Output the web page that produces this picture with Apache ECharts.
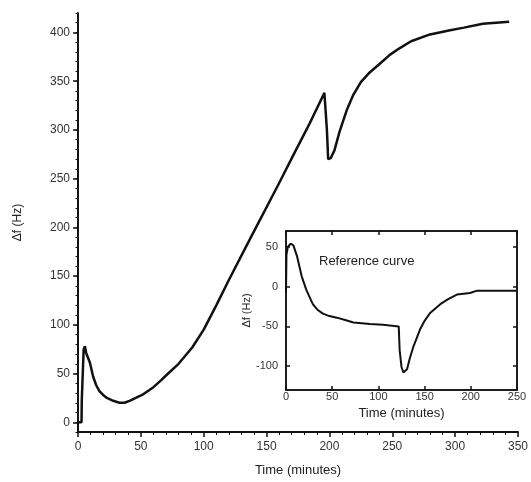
<!DOCTYPE html>
<html>
<head>
<meta charset="utf-8">
<script src="https://cdn.jsdelivr.net/npm/echarts@6/dist/echarts.min.js"></script>
<style>
  html, body { margin: 0; padding: 0; background: #fff; }
  #chart { width: 531px; height: 482px; }
</style>
</head>
<body>
<div id="chart"></div>
<script>
// main curve (time in minutes, delta f in Hz)
const mainTime = [0, 2.8, 3, 4, 4.5, 5.5, 6.5, 7.5, 9.5, 12, 14.5, 17, 20, 23, 28, 33, 37, 41, 46, 51, 60, 66, 70, 80, 91,
  100, 110, 120, 138, 159, 172, 184, 190, 196, 198, 199, 201, 204, 208, 214, 219, 225, 232, 241, 248, 256, 265,
  280, 295, 307, 322, 343];
const mainValues = [0, 0, 22, 24, 75, 78, 71, 70, 61, 47, 38, 32, 28, 25, 22, 20, 20, 22, 25, 28, 36, 43, 48, 60, 77,
  95, 120, 146, 191, 243, 276, 306, 322, 338, 300, 270, 271, 279, 298, 321, 336, 349, 359, 369, 377, 384, 391,
  398, 402, 405, 409, 411];

// inset reference curve
const refTime = [0, 0.5, 2, 5, 8, 12, 17, 22, 29, 34, 40, 47, 55, 64, 73, 91, 105, 122, 123, 125, 127, 129, 131, 134, 138,
  145, 150, 156, 167, 175, 185, 199, 207, 250];
const refValues = [-8, 40, 50, 54, 52, 38, 13, -4, -22, -29, -34, -37, -39, -42, -45, -47, -48, -50, -80, -101, -108, -108, -104, -90, -75,
  -54, -43, -33, -22, -16, -10, -8, -5, -5];

const mainYTicks = [0, 50, 100, 150, 200, 250, 300, 350, 400];
const refYTicks = [-100, -50, 0, 50];

const font = 'Liberation Sans';
const ink = '#111';

const chart = echarts.init(document.getElementById('chart'));

chart.setOption({
  backgroundColor: '#fff',
  animation: false,
  title: {
    text: 'Reference curve',
    left: 314, top: 250,
    textStyle: { fontFamily: font, fontSize: 13, fontWeight: 'normal', color: '#222' }
  },
  grid: [
    { left: 78, right: 11, top: 13, bottom: 49, show: false },
    { left: 286, right: 14, top: 231, bottom: 92, show: true, backgroundColor: '#fff',
      borderColor: ink, borderWidth: 1.5, z: 5 }
  ],
  xAxis: [
    {
      gridIndex: 0, type: 'value', min: 0, max: 350, interval: 50,
      name: 'Time (minutes)', nameLocation: 'middle', nameGap: 32,
      nameTextStyle: { fontFamily: font, fontSize: 13, color: '#222' },
      axisLine: { onZero: false, lineStyle: { color: ink, width: 2 } },
      axisTick: { length: 5, lineStyle: { color: ink, width: 1.5 } },
      minorTick: { show: true, splitNumber: 5, length: 3, lineStyle: { color: ink } },
      axisLabel: { fontFamily: font, fontSize: 12, color: '#333', margin: 9 },
      splitLine: { show: false }
    },
    {
      gridIndex: 1, type: 'value', min: 0, max: 250, interval: 50,
      name: 'Time (minutes)', nameLocation: 'middle', nameGap: 17,
      nameTextStyle: { fontFamily: font, fontSize: 13, color: '#222' },
      axisLine: { onZero: false, lineStyle: { color: ink, width: 1.5 } },
      axisTick: { inside: true, length: 4, lineStyle: { color: ink, width: 1.5 } },
      axisLabel: { fontFamily: font, fontSize: 11, color: '#333', margin: 1 },
      splitLine: { show: false }, z: 6
    },
    {
      gridIndex: 1, type: 'value', min: 0, max: 250, interval: 50, position: 'top',
      axisLine: { onZero: false, lineStyle: { color: ink, width: 1.5 } },
      axisTick: { inside: true, length: 4, lineStyle: { color: ink, width: 1.5 } },
      axisLabel: { show: false }, splitLine: { show: false }, z: 6
    }
  ],
  yAxis: [
    {
      gridIndex: 0, type: 'value', min: -10, max: 420,
      name: 'Δf (Hz)', nameLocation: 'middle', nameGap: 54,
      nameTextStyle: { fontFamily: font, fontSize: 12, color: '#222' },
      axisLine: { onZero: false, lineStyle: { color: ink, width: 2 } },
      axisTick: { length: 5, customValues: mainYTicks, lineStyle: { color: ink, width: 1.5 } },
      axisLabel: { fontFamily: font, fontSize: 12, color: '#333', margin: 8, customValues: mainYTicks },
      splitLine: { show: false }
    },
    {
      // minor ticks of the main y axis
      gridIndex: 0, type: 'value', min: -10, max: 420, interval: 10, position: 'left',
      axisLine: { show: false, onZero: false },
      axisTick: { length: 2.5, lineStyle: { color: ink } },
      axisLabel: { show: false }, splitLine: { show: false }
    },
    {
      gridIndex: 1, type: 'value', min: -130, max: 70,
      name: 'Δf (Hz)', nameLocation: 'middle', nameGap: 24,
      nameTextStyle: { fontFamily: font, fontSize: 11, color: '#222' },
      axisLine: { onZero: false, lineStyle: { color: ink, width: 1.5 } },
      axisTick: { inside: true, length: 4, customValues: refYTicks, lineStyle: { color: ink, width: 1.5 } },
      axisLabel: { fontFamily: font, fontSize: 11, color: '#333', margin: 8, customValues: refYTicks },
      splitLine: { show: false }, z: 6
    },
    {
      gridIndex: 1, type: 'value', min: -130, max: 70, position: 'right',
      axisLine: { onZero: false, lineStyle: { color: ink, width: 1.5 } },
      axisTick: { inside: true, length: 4, customValues: refYTicks, lineStyle: { color: ink, width: 1.5 } },
      axisLabel: { show: false }, splitLine: { show: false }, z: 6
    }
  ],
  series: [
    {
      type: 'line', xAxisIndex: 0, yAxisIndex: 0,
      data: mainTime.map((t, i) => [t, mainValues[i]]),
      showSymbol: false,
      lineStyle: { color: ink, width: 2.5 }
    },
    {
      type: 'line', xAxisIndex: 1, yAxisIndex: 2,
      data: refTime.map((t, i) => [t, refValues[i]]),
      showSymbol: false, z: 7,
      lineStyle: { color: ink, width: 2 }
    }
  ]
});
</script>
</body>
</html>
